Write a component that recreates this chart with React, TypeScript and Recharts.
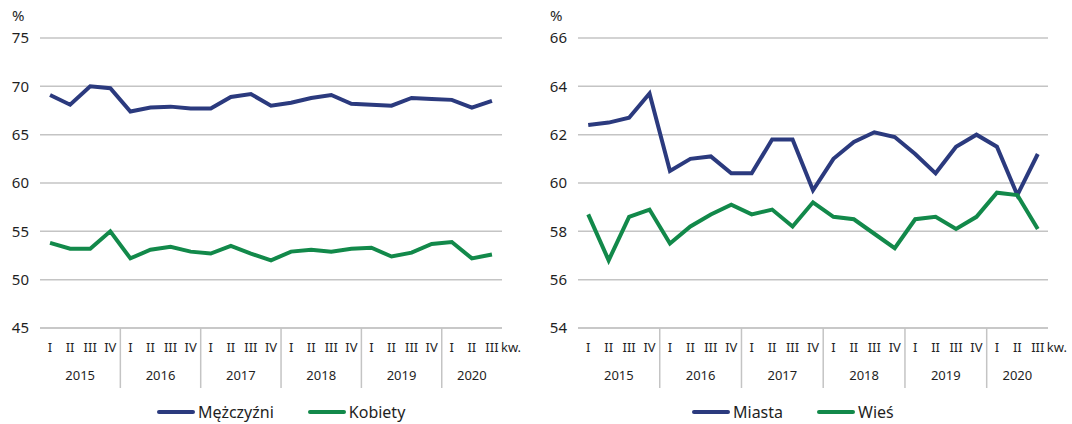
import { CartesianGrid, Line, LineChart, XAxis, YAxis } from "recharts";

const YEARS = ["2015", "2016", "2017", "2018", "2019", "2020"];
const QUARTERS_PER_YEAR = [4, 4, 4, 4, 4, 3];
const QUARTER_LABELS = ["I", "II", "III", "IV"];

const MEN = [69.1, 68.1, 70.0, 69.8, 67.4, 67.8, 67.9, 67.7, 67.7, 68.9, 69.2, 68.0, 68.3, 68.8, 69.1, 68.2, 68.1, 68.0, 68.8, 68.7, 68.6, 67.8, 68.5];
const WOMEN = [53.8, 53.2, 53.2, 55.0, 52.2, 53.1, 53.4, 52.9, 52.7, 53.5, 52.7, 52.0, 52.9, 53.1, 52.9, 53.2, 53.3, 52.4, 52.8, 53.7, 53.9, 52.2, 52.6];
const CITY = [62.4, 62.5, 62.7, 63.7, 60.5, 61.0, 61.1, 60.4, 60.4, 61.8, 61.8, 59.7, 61.0, 61.7, 62.1, 61.9, 61.2, 60.4, 61.5, 62.0, 61.5, 59.5, 61.2];
const RURAL = [58.7, 56.8, 58.6, 58.9, 57.5, 58.2, 58.7, 59.1, 58.7, 58.9, 58.2, 59.2, 58.6, 58.5, 57.9, 57.3, 58.5, 58.6, 58.1, 58.6, 59.6, 59.5, 58.1];

const LEFT_TICKS = [45, 50, 55, 60, 65, 70, 75];
const RIGHT_TICKS = [54, 56, 58, 60, 62, 64, 66];

const NAVY = "#2b3a7e";
const GREEN = "#12894a";
const GRID = "#c4c4c4";
const TEXT = "#1f1f1f";
const FONT = "'Noto Sans', sans-serif";

type Cat = { q: string; year: string; yearIdx: number; qIdx: number };

const CATS: Cat[] = YEARS.flatMap((year, yearIdx) =>
  Array.from({ length: QUARTERS_PER_YEAR[yearIdx] }, (_, qIdx) => ({
    q: QUARTER_LABELS[qIdx],
    year,
    yearIdx,
    qIdx,
  })),
);

const TOP = 38;
const AXIS_H = 60;
const H = 424;

function makeTick(band: number) {
  return function QuarterTick(props: any) {
    const { x, y, payload } = props;
    const i = payload.index as number;
    const cat = CATS[i];
    if (!cat) return null;
    const axisY = y - 8;
    const count = QUARTERS_PER_YEAR[cat.yearIdx];
    return (
      <g>
        <text x={x} y={axisY + 24} textAnchor="middle" fill={TEXT} fontSize={13} fontFamily={FONT}>
          {cat.q}
        </text>
        {cat.qIdx === 0 && cat.yearIdx > 0 && (
          <line x1={x - band / 2} x2={x - band / 2} y1={axisY} y2={axisY + 60} stroke={GRID} strokeWidth={1.5} />
        )}
        {cat.qIdx === 0 && (
          <text
            x={x + ((count - 1) / 2) * band}
            y={axisY + 52}
            textAnchor="middle"
            fill={TEXT}
            fontSize={13}
            fontFamily={FONT}
          >
            {cat.year}
          </text>
        )}
        {i === CATS.length - 1 && (
          <text x={x + 9} y={axisY + 24} textAnchor="start" fill={TEXT} fontSize={13} fontFamily={FONT}>
            kw.
          </text>
        )}
      </g>
    );
  };
}

type Series = { name: string; values: number[]; color: string };

function Panel({
  width,
  yWidth,
  right,
  ticks,
  series,
  legendLeft,
}: {
  width: number;
  yWidth: number;
  right: number;
  ticks: number[];
  series: Series[];
  legendLeft: number;
}) {
  const data = CATS.map((c, i) => {
    const row: Record<string, string | number> = { q: c.q };
    series.forEach((s) => {
      row[s.name] = s.values[i];
    });
    return row;
  });
  const band = (width - yWidth - right) / CATS.length;
  return (
    <div style={{ position: "relative", width, height: H }}>
      <div style={{ position: "absolute", left: yWidth - 28, top: 5, fontSize: 15, color: TEXT, fontFamily: FONT }}>%</div>
      <LineChart
        width={width}
        height={H}
        data={data}
        margin={{ top: TOP, right, left: 0, bottom: H - TOP - 290 - AXIS_H }}
      >
        <CartesianGrid vertical={false} stroke={GRID} strokeWidth={1.5} />
        <XAxis
          dataKey="q"
          interval={0}
          height={AXIS_H}
          padding={{ left: band / 2, right: band / 2 }}
          tickLine={false}
          axisLine={{ stroke: GRID, strokeWidth: 1.5 }}
          tick={makeTick(band)}
        />
        <YAxis
          width={yWidth}
          domain={[ticks[0], ticks[ticks.length - 1]]}
          ticks={ticks}
          axisLine={false}
          tickLine={false}
          tickMargin={5}
          tick={{ fill: TEXT, fontSize: 15, fontFamily: FONT }}
        />
        {series.map((s) => (
          <Line
            key={s.name}
            dataKey={s.name}
            stroke={s.color}
            strokeWidth={4}
            dot={false}
            type="linear"
            isAnimationActive={false}
          />
        ))}
      </LineChart>
      <div
        style={{
          position: "absolute",
          top: 401,
          left: legendLeft,
          display: "flex",
          gap: 34,
          fontFamily: FONT,
          fontSize: 16,
          color: TEXT,
          whiteSpace: "nowrap",
        }}
      >
        {series.map((s) => (
          <div key={s.name} style={{ display: "flex", alignItems: "center", gap: 3 }}>
            <span style={{ display: "inline-block", width: 38, height: 4, borderRadius: 2, background: s.color }} />
            <span>{s.name}</span>
          </div>
        ))}
      </div>
    </div>
  );
}

export default function App() {
  return (
    <div style={{ position: "absolute", left: 0, top: 0, width: 1072, height: H, background: "#fff", display: "flex" }}>
      <Panel
        width={536}
        yWidth={40}
        right={34}
        ticks={LEFT_TICKS}
        legendLeft={157}
        series={[
          { name: "Mężczyźni", values: MEN, color: NAVY },
          { name: "Kobiety", values: WOMEN, color: GREEN },
        ]}
      />
      <Panel
        width={536}
        yWidth={42}
        right={24}
        ticks={RIGHT_TICKS}
        legendLeft={156}
        series={[
          { name: "Miasta", values: CITY, color: NAVY },
          { name: "Wieś", values: RURAL, color: GREEN },
        ]}
      />
    </div>
  );
}
